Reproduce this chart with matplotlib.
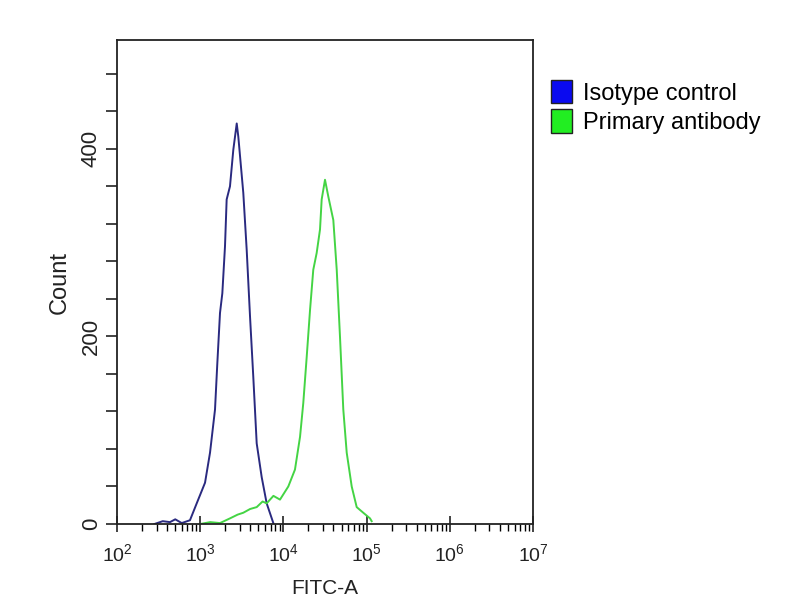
import matplotlib
matplotlib.use("Agg")
import matplotlib.pyplot as plt
from matplotlib.patches import Patch
from matplotlib.ticker import FixedLocator, LogLocator, NullFormatter, FixedFormatter
import numpy as np

# ---- data (FITC-A as log10 exponent, Count) ----
iso_log = [2.45, 2.55, 2.637, 2.70, 2.778, 2.877, 2.958, 3.058, 3.118, 3.178, 3.205,
           3.238, 3.266, 3.298, 3.318, 3.358, 3.398, 3.439, 3.458, 3.518, 3.559, 3.599,
           3.638, 3.679, 3.739, 3.799, 3.879]
iso_cnt = [0, 3, 2, 5, 1, 4, 22, 44, 76, 122, 170,
           225, 246, 296, 346, 360, 399, 427, 413, 353, 292, 221,
           157, 86, 50, 22, 1]

pri_log = [3.00, 3.12, 3.238, 3.358, 3.45, 3.518, 3.60, 3.679, 3.75, 3.799, 3.88, 3.959,
           4.059, 4.139, 4.200, 4.239, 4.280, 4.320, 4.359, 4.400, 4.440, 4.460,
           4.500, 4.540, 4.600, 4.641, 4.680, 4.720, 4.761, 4.821, 4.881,
           4.960, 5.041, 5.061]
pri_cnt = [0, 2, 1, 6, 10, 12, 16, 18, 24, 22, 30, 26,
           40, 58, 93, 129, 178, 228, 271, 289, 314, 346,
           367, 349, 324, 271, 200, 122, 76, 40, 18,
           12, 6, 3]

series_names = ["Isotype control", "Primary antibody"]
line_colors = ["#2a2a80", "#44d444"]
legend_colors = ["#0a0af0", "#22ee22"]

x_decades = [2, 3, 4, 5, 6, 7]
y_ticks = list(range(0, 520, 40))
y_labels = {0: "0", 200: "200", 400: "400"}

plt.rcParams["font.family"] = ["Liberation Sans", "DejaVu Sans"]
plt.rcParams["mathtext.fontset"] = "custom"
plt.rcParams["mathtext.rm"] = "Liberation Sans"
plt.rcParams["mathtext.it"] = "Liberation Sans"

fig = plt.figure(figsize=(8, 6), dpi=100)
ax = fig.add_axes([117/800, 1 - 524/600, (533-117)/800, (524-40)/600])

ax.plot([10**v for v in iso_log], iso_cnt, color=line_colors[0], lw=1.4)
ax.plot([10**v for v in pri_log], pri_cnt, color=line_colors[1], lw=1.4)

ax.set_xscale("log")
ax.set_xlim(10**x_decades[0], 10**x_decades[-1])
ax.set_ylim(0, 516)

ax.xaxis.set_major_locator(FixedLocator([10**d for d in x_decades]))
ax.xaxis.set_major_formatter(FixedFormatter([r"$10^{%d}$" % d for d in x_decades]))
ax.xaxis.set_minor_locator(LogLocator(base=10, subs=np.arange(2, 10)))
ax.xaxis.set_minor_formatter(NullFormatter())

ax.yaxis.set_major_locator(FixedLocator(y_ticks))
ax.yaxis.set_major_formatter(FixedFormatter([y_labels.get(t, "") for t in y_ticks]))

ax.tick_params(axis="x", which="major", direction="inout", length=11, width=1.2,
               labelsize=14, pad=8, colors="#222222")
ax.tick_params(axis="x", which="minor", direction="out", length=5, width=1.0)
ax.tick_params(axis="y", which="major", direction="out", length=8, width=1.2,
               labelsize=16, pad=3, colors="#222222")
for lab in ax.get_yticklabels():
    lab.set_rotation(90)
    lab.set_va("center")

for s in ax.spines.values():
    s.set_linewidth(1.3)
    s.set_color("#222222")

ax.set_xlabel("FITC-A", fontsize=15, color="#222222", labelpad=10)
ax.set_ylabel("Count", fontsize=17, color="#222222", labelpad=7)

handles = [Patch(facecolor=c, edgecolor="#222222", linewidth=1.0) for c in legend_colors]
fig.legend(handles, series_names, loc="upper left", bbox_to_anchor=(551/800, 1 - 80/600),
           frameon=False, fontsize=17, handlelength=0.9, handleheight=1.15,
           handletextpad=0.45, labelspacing=0.2, borderaxespad=0, borderpad=0)

fig.savefig("out.png", dpi=100)
